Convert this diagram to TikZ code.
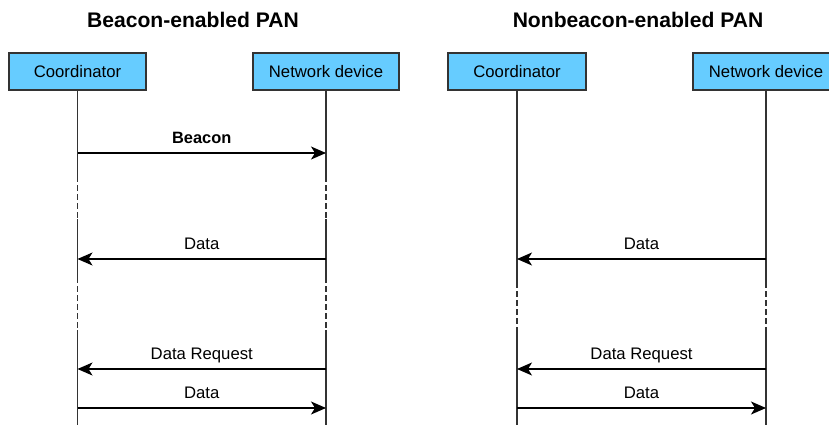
\documentclass[tikz,border=0pt]{standalone}
\usepackage{fontspec}
\setmainfont{Liberation Sans}
\usetikzlibrary{arrows.meta}
\definecolor{boxblue}{HTML}{66CCFF}
\definecolor{linegray}{HTML}{333333}
\begin{document}
\begin{tikzpicture}[x=1pt,y=-1pt,
  actor/.style={draw=linegray, line width=1.2pt, fill=boxblue, minimum height=37pt, inner sep=0pt, font=\fontsize{16.7}{19}\selectfont},
  life/.style={draw=linegray, line width=1.4pt},
  lifedash/.style={life, dash pattern=on 6pt off 3pt},
  msg/.style={draw=black, line width=1.3pt, -{Stealth[length=15pt,width=13pt,inset=4pt]}},
  lbl/.style={font=\fontsize{16.7}{19}\selectfont, inner sep=0pt, anchor=base, yshift=10pt},
  ttl/.style={font=\fontsize{21.1}{24}\selectfont\bfseries, inner sep=0pt, anchor=base}]
\clip (0,0) rectangle (829,425);
% titles
\node[ttl] (t1) at (193,28) {Beacon-enabled PAN};
\node[ttl] (t2) at (638,28) {Nonbeacon-enabled PAN};
% actors
\node[actor, minimum width=137pt] (c1) at (77.5,71.5) {Coordinator};
\node[actor, minimum width=146pt] (n1) at (326,71.5) {Network device};
\node[actor, minimum width=138pt] (c2) at (517,71.5) {Coordinator};
\node[actor, minimum width=146pt] (n2) at (766,71.5) {Network device};
% lifelines, beacon-enabled
\foreach \a in {c1,n1}{
  \coordinate (\a p1) at (\a |- 0,176);
  \coordinate (\a p2) at (\a |- 0,219);
  \coordinate (\a p3) at (\a |- 0,277);
  \coordinate (\a p4) at (\a |- 0,330);
  \coordinate (\a e) at (\a |- 0,430);
  \draw[life] (\a.south) -- (\a p1);
  \draw[lifedash] (\a p1) -- (\a p2);
  \draw[life] (\a p2) -- (\a p3);
  \draw[lifedash] (\a p3) -- (\a p4);
  \draw[life] (\a p4) -- (\a e);
}
% lifelines, nonbeacon-enabled
\foreach \a in {c2,n2}{
  \coordinate (\a p3) at (\a |- 0,282);
  \coordinate (\a p4) at (\a |- 0,330);
  \coordinate (\a e) at (\a |- 0,430);
  \draw[life] (\a.south) -- (\a p3);
  \draw[lifedash] (\a p3) -- (\a p4);
  \draw[life] (\a p4) -- (\a e);
}
% messages, beacon-enabled
\coordinate (c1m1) at (c1 |- 0,153); \coordinate (n1m1) at (n1 |- 0,153);
\coordinate (c1m2) at (c1 |- 0,259); \coordinate (n1m2) at (n1 |- 0,259);
\coordinate (c1m3) at (c1 |- 0,369); \coordinate (n1m3) at (n1 |- 0,369);
\coordinate (c1m4) at (c1 |- 0,408); \coordinate (n1m4) at (n1 |- 0,408);
\draw[msg] (c1m1) -- node[lbl, font=\fontsize{16.4}{19}\selectfont\bfseries] {Beacon} (n1m1);
\draw[msg] (n1m2) -- node[lbl] {Data} (c1m2);
\draw[msg] (n1m3) -- node[lbl] {Data Request} (c1m3);
\draw[msg] (c1m4) -- node[lbl] {Data} (n1m4);
% messages, nonbeacon-enabled
\coordinate (c2m2) at (c2 |- 0,259); \coordinate (n2m2) at (n2 |- 0,259);
\coordinate (c2m3) at (c2 |- 0,369); \coordinate (n2m3) at (n2 |- 0,369);
\coordinate (c2m4) at (c2 |- 0,408); \coordinate (n2m4) at (n2 |- 0,408);
\draw[msg] (n2m2) -- node[lbl] {Data} (c2m2);
\draw[msg] (n2m3) -- node[lbl] {Data Request} (c2m3);
\draw[msg] (c2m4) -- node[lbl] {Data} (n2m4);
\end{tikzpicture}
\end{document}
